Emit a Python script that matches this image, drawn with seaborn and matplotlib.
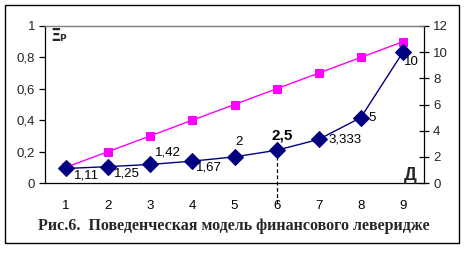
import matplotlib
matplotlib.use("Agg")
import matplotlib.pyplot as plt
import seaborn as sns
import pandas as pd
import numpy as np
from matplotlib.patches import Rectangle
from matplotlib.ticker import FixedLocator, FuncFormatter

sns.set_style("white")
plt.rcParams['font.family'] = ['Liberation Sans', 'DejaVu Sans']

categories = [1, 2, 3, 4, 5, 6, 7, 8, 9]
pink_values = [0.1, 0.2, 0.3, 0.4, 0.5, 0.6, 0.7, 0.8, 0.9]
blue_values = [1.11, 1.25, 1.42, 1.67, 2.0, 2.5, 3.333, 5.0, 10.0]
blue_labels = ["1,11", "1,25", "1,42", "1,67", "2", "2,5", "3,333", "5", "10"]
left_ticks = [0, 0.2, 0.4, 0.6, 0.8, 1.0]
right_ticks = [0, 2, 4, 6, 8, 10, 12]
caption = "Рис.6.  Поведенческая модель финансового левериджe"

df = pd.DataFrame({"cat": categories, "pink": pink_values, "blue": blue_values})

W, H = 466, 259
fig = plt.figure(figsize=(W / 100, H / 100), dpi=100)
fig.patch.set_facecolor("white")
ax = fig.add_axes([45 / W, 1 - 183 / H, (424 - 45) / W, (183 - 26) / H])
ax2 = ax.twinx()

sns.lineplot(data=df, x="cat", y="pink", ax=ax, color="#FF00FF", lw=1.0,
             marker="s", markersize=5.5, markeredgecolor="#FF00FF", clip_on=False)
sns.lineplot(data=df, x="cat", y="blue", ax=ax2, color="#000080", lw=1.0,
             marker="D", markersize=8, markeredgecolor="#000080", clip_on=False)

ax.set_xlim(0.5, 9.5)
ax.set_ylim(0, 1)
ax2.set_ylim(0, 12)
ax.set_xlabel("")
ax.set_ylabel("")
ax2.set_ylabel("")

comma = FuncFormatter(lambda v, p: ("%g" % v).replace(".", ","))
ax.set_yticks(left_ticks)
ax.yaxis.set_major_formatter(comma)
ax2.set_yticks(right_ticks)

ax.set_xticks(categories)
ax.xaxis.set_minor_locator(FixedLocator(np.arange(0.5, 10, 1.0)))
ax.tick_params(axis="x", which="major", length=0, pad=12, labelsize=9.5, colors="black")
ax.tick_params(axis="x", which="minor", length=7, width=0.9, direction="inout", color="black")
ax.tick_params(axis="y", which="major", length=4, width=0.9, direction="out",
               labelsize=9.5, pad=3, left=True, color="black")
ax2.tick_params(axis="y", which="major", length=7, width=0.9, direction="inout",
                labelsize=9.5, pad=3, right=True, color="black")

for a in (ax, ax2):
    for s in ("left", "right", "bottom"):
        a.spines[s].set_color("black")
        a.spines[s].set_linewidth(0.9)
    a.spines["top"].set_color("#808080")
    a.spines["top"].set_linewidth(0.9)
ax.spines["right"].set_visible(False)
ax2.spines["left"].set_visible(False)
ax2.spines["bottom"].set_visible(False)

# Dashed drop line at category 6
ax2.plot([6, 6], [blue_values[5], -1.65], ls=(0, (3, 2)), color="black", lw=0.9,
         clip_on=False, zorder=1)

offsets = [(8, -7, "left"), (6, -7, "left"), (5, 12, "left"), (4, -6, "left"),
           (5, 15, "center"), (6, 15, "center"), (10, 0, "left"), (8, 0, "left"),
           (1, -10, "left")]
for i, (x, y, lab) in enumerate(zip(categories, blue_values, blue_labels)):
    dx, dy, ha = offsets[i]
    bold = (lab == "2,5")
    ax2.annotate(lab, (x, y), xytext=(dx, dy), textcoords="offset pixels",
                 ha=ha, va="center", fontsize=11 if bold else 9.5,
                 fontweight="bold" if bold else "normal", color="black")

fig.text(50 / W, 1 - 36 / H, "Ξ", fontsize=12, fontweight="heavy",
         family=["DejaVu Sans"], ha="left", va="center")
fig.text(59.5 / W, 1 - 38.5 / H, "P", fontsize=6.5, fontweight="bold",
         family=["DejaVu Sans"], ha="left", va="center")
fig.text(410 / W, 1 - 176 / H, "Д", fontsize=13, fontweight="bold", ha="center", va="center")

fig.text(234 / W, 1 - 226 / H, caption, fontsize=11.5, fontweight="bold",
         family=["Liberation Serif", "DejaVu Serif"], ha="center", va="center")

fig.patches.append(Rectangle((5 / W, 1 - 243 / H), (459 - 5) / W, (243 - 5) / H,
                             transform=fig.transFigure, fill=False, ec="black", lw=1.0))

fig.savefig("out.png", dpi=100)
